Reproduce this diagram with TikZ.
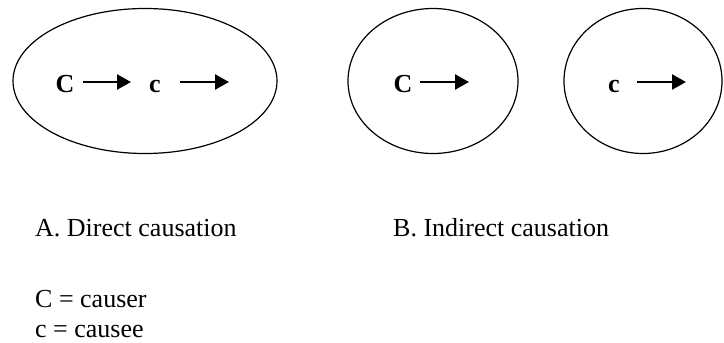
\documentclass[tikz,border=0pt]{standalone}
\usepackage{fontspec}
\setmainfont{Liberation Serif}
\usetikzlibrary{shapes.geometric,arrows.meta}
\begin{document}
\begin{tikzpicture}[x=1pt,y=-1pt,
  blob/.style={draw,ellipse,line width=1.2pt,inner sep=0pt},
  sym/.style={font=\fontsize{26}{30}\selectfont\bfseries,anchor=base,inner sep=0pt},
  lbl/.style={font=\fontsize{26}{30}\selectfont,anchor=base west,inner sep=0pt},
  arr/.style={line width=2.4pt,-{Triangle[length=14pt,width=15pt]}}]
\useasboundingbox (0,0) rectangle (724,343);
\node[blob,minimum width=264pt,minimum height=145pt] (e1) at (145,81) {};
\node[blob,minimum width=170pt,minimum height=145pt] (e2) at (433,81) {};
\node[blob,minimum width=158pt,minimum height=145pt] (e3) at (643,81) {};
\node[sym] (C1) at (65,92) {C};
\node[sym] (c1) at (155,92) {c};
\node[sym] (C2) at (403,92) {C};
\node[sym] (c3) at (614,92) {c};
\coordinate (a1s) at (83,82);  \coordinate (a1e) at (131,82);
\coordinate (a2s) at (180,82); \coordinate (a2e) at (229,82);
\coordinate (a3s) at (420,82); \coordinate (a3e) at (469,82);
\coordinate (a4s) at (637,82); \coordinate (a4e) at (686,82);
\draw[arr] (a1s) -- (a1e);
\draw[arr] (a2s) -- (a2e);
\draw[arr] (a3s) -- (a3e);
\draw[arr] (a4s) -- (a4e);
\node[lbl] (la) at (35,236) {A. Direct causation};
\node[lbl] (lb) at (393,236) {B. Indirect causation};
\node[lbl] (k1) at (35,307) {C = causer};
\node[lbl] (k2) at (35,337) {c = causee};
\end{tikzpicture}
\end{document}
